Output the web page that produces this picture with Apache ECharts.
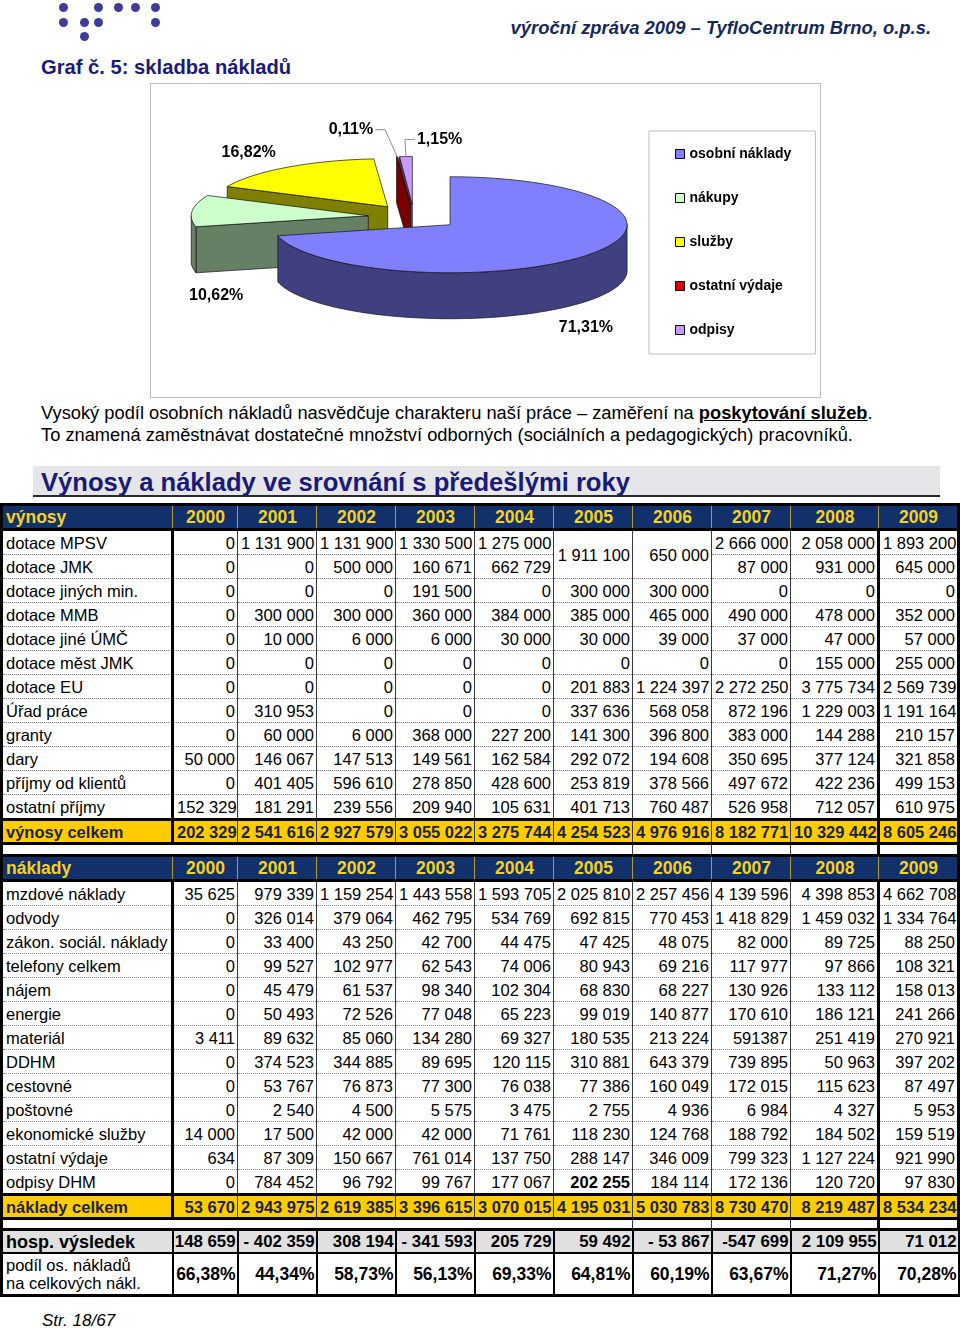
<!DOCTYPE html>
<html lang="cs">
<head>
<meta charset="utf-8">
<title>Graf č. 5: skladba nákladů</title>
<script src="https://cdn.jsdelivr.net/npm/echarts@6/dist/echarts.min.js"></script>
<style>
  html, body { margin: 0; padding: 0; background: #fff; }
  body { width: 960px; height: 1329px; position: relative; overflow: hidden;
         font-family: "Liberation Sans", Arial, sans-serif; color: #000; }
  .dot { position: absolute; width: 9px; height: 9px; border-radius: 50%; background: #3d3d99; }
  .top-right { position: absolute; right: 29px; top: 16px; font: italic bold 18.4px "Liberation Sans", Arial;
               color: #15285a; line-height: 24px; }
  .graf { position: absolute; left: 41px; top: 55px; font: bold 20.2px "Liberation Sans", Arial;
          color: #1a1a78; line-height: 24px; }
  .box { position: absolute; left: 150px; top: 83px; width: 669px; height: 313px; border: 1px solid #c0c0c0; }
  #pie { position: absolute; left: 0; top: 0; width: 669px; height: 313px; }
  .para { position: absolute; left: 41px; top: 402px; font-size: 18.3px; line-height: 22px; white-space: nowrap; }
  .para b { text-decoration: underline; }
  .heading { position: absolute; left: 33px; top: 466px; width: 899px; height: 29px; padding-left: 8px;
             background: #e6e6ea; border-bottom: 2px solid #2b2b2b; font: bold 25.6px "Liberation Sans", Arial;
             color: #1a1a78; line-height: 32px; white-space: nowrap; }
  #tbl { position: absolute; left: 0; top: 503px; width: 958px; border-collapse: collapse; table-layout: fixed;
         font-size: 16.5px; }
  #tbl td { padding: 0 2px 0 3px; white-space: nowrap; text-align: right; vertical-align: middle;
            border-left: 1px solid #3a3a3a; border-right: 1px solid #3a3a3a; border-bottom: 1px dotted #8a8a8a;
            height: 23px; line-height: 18px; overflow: hidden; }
  #tbl td.lab { text-align: left; border-left: 3px solid #000; border-right: 3px solid #000; }
  #tbl td.y2008 { border-right: 3px solid #000; }
  #tbl td.y2009 { border-right: 3px solid #000; }
  #tbl tr.hd td { background: #12306a; color: #f5d21e; font-weight: bold; font-size: 17.5px; text-align: center;
                  border-top: 3px solid #000; border-bottom: 3px solid #000; border-left: 1px solid #b59c2e;
                  border-right: 1px solid #b59c2e; height: 22px; }
  #tbl tr.hd td.lab { text-align: left; border-left: 3px solid #000; }
  #tbl tr.hd td.y2009 { border-right: 3px solid #000; }
  #tbl tr.tot td { background: #ffcc00; color: #1b2448; font-weight: bold; border-top: 3px solid #000;
                   border-bottom: 3px solid #000; height: 21px; }
  #tbl tr.gap td { height: 9px; border-bottom: none; border-left: none; border-right: none; padding: 0; }
  #tbl tr.gap2 td { height: 8px; }
  #tbl tr.gap td.lab { border-left: 3px solid #000; }
  #tbl tr.gap td.ln { border-left: 1px solid #3a3a3a; }
  #tbl tr.gap td.y2009 { border-left: 3px solid #000; border-right: 3px solid #000; }
  #tbl tr.res td { background: #e0e0e0; font-weight: bold; font-size: 16.8px; border-top: 3px solid #000;
                   border-bottom: 2px solid #000; border-left: 2px solid #000; border-right: 2px solid #000;
                   height: 21px; padding: 0 1px 0 0; }
  #tbl tr.res td.lab { font-size: 18px; border-left: 3px solid #000; padding-left: 3px; }
  #tbl tr.pct td { font-weight: bold; font-size: 17.5px; border-bottom: 3px solid #000; border-left: 2px solid #000;
                   border-right: 2px solid #000; height: 40px; padding: 0 1px 0 0; }
  #tbl tr.pct td.lab { font-weight: normal; font-size: 16.5px; line-height: 18px; white-space: nowrap;
                       border-left: 3px solid #000; padding-left: 3px; }
  #tbl td.strong { font-weight: bold; }
  .page { position: absolute; left: 42px; top: 1310px; font: italic 17px "Liberation Sans", Arial; line-height: 22px; }
</style>
</head>
<body>
<div class="dot" style="left:59px;top:3px"></div>
<div class="dot" style="left:94px;top:3px"></div>
<div class="dot" style="left:114px;top:3px"></div>
<div class="dot" style="left:131px;top:3px"></div>
<div class="dot" style="left:151px;top:3px"></div>
<div class="dot" style="left:59px;top:18px"></div>
<div class="dot" style="left:80px;top:18px"></div>
<div class="dot" style="left:94px;top:18px"></div>
<div class="dot" style="left:151px;top:18px"></div>
<div class="dot" style="left:80px;top:32px"></div>

<div class="top-right">výroční zpráva 2009 – TyfloCentrum Brno, o.p.s.</div>
<div class="graf">Graf č. 5: skladba nákladů</div>

<div class="box"><div id="pie"></div></div>

<div class="para">Vysoký podíl osobních nákladů nasvědčuje charakteru naší práce – zaměření na <b>poskytování služeb</b>.<br>To znamená zaměstnávat dostatečné množství odborných (sociálních a pedagogických) pracovníků.</div>

<div class="heading">Výnosy a náklady ve srovnání s předešlými roky</div>

<table id="tbl"></table>

<div class="page">Str. 18/67</div>

<script>
// --- pie data ---
const costGroups = ['osobní náklady', 'nákupy', 'služby', 'ostatní výdaje', 'odpisy'];
const costShares = [71.31, 10.62, 16.82, 0.11, 1.15];

// --- table data ---
const years = ['2000', '2001', '2002', '2003', '2004', '2005', '2006', '2007', '2008', '2009'];

const incomeItems = ['dotace MPSV', 'dotace JMK', 'dotace jiných min.', 'dotace MMB', 'dotace jiné ÚMČ',
  'dotace měst JMK', 'dotace EU', 'Úřad práce', 'granty', 'dary', 'příjmy od klientů', 'ostatní příjmy'];
// null = covered by the merged cell above
const incomeValues = [
  ['0', '1 131 900', '1 131 900', '1 330 500', '1 275 000', '1 911 100', '650 000', '2 666 000', '2 058 000', '1 893 200'],
  ['0', '0', '500 000', '160 671', '662 729', null, null, '87 000', '931 000', '645 000'],
  ['0', '0', '0', '191 500', '0', '300 000', '300 000', '0', '0', '0'],
  ['0', '300 000', '300 000', '360 000', '384 000', '385 000', '465 000', '490 000', '478 000', '352 000'],
  ['0', '10 000', '6 000', '6 000', '30 000', '30 000', '39 000', '37 000', '47 000', '57 000'],
  ['0', '0', '0', '0', '0', '0', '0', '0', '155 000', '255 000'],
  ['0', '0', '0', '0', '0', '201 883', '1 224 397', '2 272 250', '3 775 734', '2 569 739'],
  ['0', '310 953', '0', '0', '0', '337 636', '568 058', '872 196', '1 229 003', '1 191 164'],
  ['0', '60 000', '6 000', '368 000', '227 200', '141 300', '396 800', '383 000', '144 288', '210 157'],
  ['50 000', '146 067', '147 513', '149 561', '162 584', '292 072', '194 608', '350 695', '377 124', '321 858'],
  ['0', '401 405', '596 610', '278 850', '428 600', '253 819', '378 566', '497 672', '422 236', '499 153'],
  ['152 329', '181 291', '239 556', '209 940', '105 631', '401 713', '760 487', '526 958', '712 057', '610 975']
];
const incomeTotal = ['202 329', '2 541 616', '2 927 579', '3 055 022', '3 275 744', '4 254 523', '4 976 916', '8 182 771', '10 329 442', '8 605 246'];

const costItems = ['mzdové náklady', 'odvody', 'zákon. sociál. náklady', 'telefony celkem', 'nájem', 'energie',
  'materiál', 'DDHM', 'cestovné', 'poštovné', 'ekonomické služby', 'ostatní výdaje', 'odpisy DHM'];
const costValues = [
  ['35 625', '979 339', '1 159 254', '1 443 558', '1 593 705', '2 025 810', '2 257 456', '4 139 596', '4 398 853', '4 662 708'],
  ['0', '326 014', '379 064', '462 795', '534 769', '692 815', '770 453', '1 418 829', '1 459 032', '1 334 764'],
  ['0', '33 400', '43 250', '42 700', '44 475', '47 425', '48 075', '82 000', '89 725', '88 250'],
  ['0', '99 527', '102 977', '62 543', '74 006', '80 943', '69 216', '117 977', '97 866', '108 321'],
  ['0', '45 479', '61 537', '98 340', '102 304', '68 830', '68 227', '130 926', '133 112', '158 013'],
  ['0', '50 493', '72 526', '77 048', '65 223', '99 019', '140 877', '170 610', '186 121', '241 266'],
  ['3 411', '89 632', '85 060', '134 280', '69 327', '180 535', '213 224', '591387', '251 419', '270 921'],
  ['0', '374 523', '344 885', '89 695', '120 115', '310 881', '643 379', '739 895', '50 963', '397 202'],
  ['0', '53 767', '76 873', '77 300', '76 038', '77 386', '160 049', '172 015', '115 623', '87 497'],
  ['0', '2 540', '4 500', '5 575', '3 475', '2 755', '4 936', '6 984', '4 327', '5 953'],
  ['14 000', '17 500', '42 000', '42 000', '71 761', '118 230', '124 768', '188 792', '184 502', '159 519'],
  ['634', '87 309', '150 667', '761 014', '137 750', '288 147', '346 009', '799 323', '1 127 224', '921 990'],
  ['0', '784 452', '96 792', '99 767', '177 067', '202 255', '184 114', '172 136', '120 720', '97 830']
];
const costTotal = ['53 670', '2 943 975', '2 619 385', '3 396 615', '3 070 015', '4 195 031', '5 030 783', '8 730 470', '8 219 487', '8 534 234'];
const resultValues = ['148 659', '- 402 359', '308 194', '- 341 593', '205 729', '59 492', '- 53 867', '-547 699', '2 109 955', '71 012'];
const staffShare = ['66,38%', '44,34%', '58,73%', '56,13%', '69,33%', '64,81%', '60,19%', '63,67%', '71,27%', '70,28%'];

// ---------- table ----------
const colWidths = [171, 65, 79, 79, 79, 79, 79, 79, 79, 88, 80];
function cls(j) { return j === 8 ? 'y2008' : j === 9 ? 'y2009' : ''; }
function row(kind, label, vals, opts) {
  opts = opts || {};
  let h = '<tr class="' + kind + '"><td class="lab">' + label + '</td>';
  vals.forEach((v, j) => {
    if (v === null) return;
    let c = cls(j);
    if (kind.indexOf('gap') === 0 && j >= 6 && j < 9) c += ' ln';
    if (opts.bold && opts.bold[j]) c += ' strong';
    const span = opts.rowspan && opts.rowspan[j] ? ' rowspan="' + opts.rowspan[j] + '"' : '';
    h += '<td class="' + c + '"' + span + '>' + (v === undefined ? '' : v) + '</td>';
  });
  return h + '</tr>';
}
let html = '<colgroup>' + colWidths.map(w => '<col style="width:' + w + 'px">').join('') + '</colgroup>';
html += row('hd', 'výnosy', years);
incomeItems.forEach((name, i) => {
  html += row('', name, incomeValues[i], i === 0 ? { rowspan: { 5: 2, 6: 2 } } : {});
});
html += row('tot', 'výnosy celkem', incomeTotal);
html += row('gap', '', years.map(() => undefined));
html += row('hd', 'náklady', years);
costItems.forEach((name, i) => {
  html += row('', name, costValues[i], i === 12 ? { bold: { 5: true } } : {});
});
html += row('tot', 'náklady celkem', costTotal);
html += row('gap gap2', '', years.map(() => undefined));
html += row('res', 'hosp. výsledek', resultValues);
html += row('pct', 'podíl os. nákladů<br>na celkových nákl.', staffShare);
document.getElementById('tbl').innerHTML = html;

// ---------- 3D pie (custom series) ----------
const topColors = ['#8080ff', '#ccffcc', '#ffff00', '#dd0000', '#cc99ff'];
const sideColors = ['#404080', '#668066', '#808000', '#7a0000', '#664d80'];
const pie = { cx: 263, cy: 133, rx: 177, ry: 48, depth: 46, explode: 46 };
// label nudges from the rim mid-point of each slice (pixels)
const labelShift = [[-3, 73], [24, 85], [-38, -15], [-24, -27], [11, -17]];
const rad = Math.PI / 180;

const shareSum = costShares.reduce((a, b) => a + b, 0);
let run = 0;
const arcs = costShares.map(v => { const a = run / shareSum * 360; run += v; return [a, run / shareSum * 360]; });
const midDepth = arcs.map(([a, b]) => -Math.cos((a + b) / 2 * rad));
const order = midDepth.map((d, i) => i).sort((p, q) => midDepth[p] - midDepth[q]);

function rimPt(ox, oy, deg, dy) {
  return [ox + pie.rx * Math.sin(deg * rad), oy - pie.ry * Math.cos(deg * rad) + (dy || 0)];
}
function arcPts(ox, oy, a, b, dy) {
  const n = Math.max(2, Math.ceil((b - a) / 2));
  const pts = [];
  for (let k = 0; k <= n; k++) pts.push(rimPt(ox, oy, a + (b - a) * k / n, dy));
  return pts;
}
function fmtShare(v) { return v.toFixed(2).replace('.', ',') + '%'; }

function drawSlice(i) {
  const [a, b] = arcs[i];
  const m = (a + b) / 2 * rad;
  const ox = pie.cx + pie.explode * Math.sin(m);
  const oy = pie.cy - pie.explode * Math.cos(m) * pie.ry / pie.rx;
  const side = { fill: sideColors[i], stroke: '#111', lineWidth: 0.7 };
  const kids = [];
  const wall = deg => {
    const p = rimPt(ox, oy, deg, 0);
    return { type: 'polygon', shape: { points: [[ox, oy], p, [p[0], p[1] + pie.depth], [ox, oy + pie.depth]] }, style: side };
  };
  if (Math.sin(a * rad) < -1e-6) kids.push(wall(a));
  if (Math.sin(b * rad) > 1e-6) kids.push(wall(b));
  const lo = Math.max(a, 90), hi = Math.min(b, 270);
  if (hi > lo) {
    const upper = arcPts(ox, oy, lo, hi, 0);
    const lower = arcPts(ox, oy, lo, hi, pie.depth).reverse();
    kids.push({ type: 'polygon', shape: { points: upper.concat(lower) }, style: side });
  }
  kids.push({ type: 'polygon', shape: { points: [[ox, oy]].concat(arcPts(ox, oy, a, b, 0)) },
              style: { fill: topColors[i], stroke: '#111', lineWidth: 0.7 } });

  // label
  const rim = rimPt(ox, oy, (a + b) / 2, 0);
  const sh = labelShift[i];
  const lx = rim[0] + sh[0], ly = rim[1] + sh[1];
  const small = costShares[i] < 2;
  const align = small ? (sh[0] < 0 ? 'right' : 'left') : 'center';
  if (small) {
    const dir = sh[0] < 0 ? 1 : -1;
    kids.push({ type: 'polyline', shape: { points: [[lx + 2 * dir, ly], [lx + 12 * dir, ly], rim] },
                style: { stroke: '#8c8c8c', lineWidth: 1, fill: null } });
  }
  kids.push({ type: 'text', style: { text: fmtShare(costShares[i]), x: lx, y: ly, align: align, verticalAlign: 'middle',
              font: 'bold 16px "Liberation Sans", Arial', fill: '#000' } });
  return { type: 'group', children: kids };
}

const chart = echarts.init(document.getElementById('pie'));
chart.setOption({
  animation: false,
  legend: {
    orient: 'vertical', left: 498, top: 47, icon: 'rect', itemWidth: 9, itemHeight: 9, itemGap: 28,
    padding: [15, 24, 16, 26], borderColor: '#bfbfbf', borderWidth: 1, selectedMode: false,
    itemStyle: { borderColor: '#000', borderWidth: 1 },
    textStyle: { fontFamily: '"Liberation Sans", Arial', fontWeight: 'bold', fontSize: 14, color: '#000', lineHeight: 16 },
    data: costGroups
  },
  series: costGroups.map((name, i) => ({
    type: 'custom', name: name, coordinateSystem: 'none', silent: true,
    z: 2 + order.indexOf(i),
    itemStyle: { color: topColors[i] },
    data: [[costShares[i]]],
    renderItem: () => drawSlice(i)
  }))
});
</script>
</body>
</html>
